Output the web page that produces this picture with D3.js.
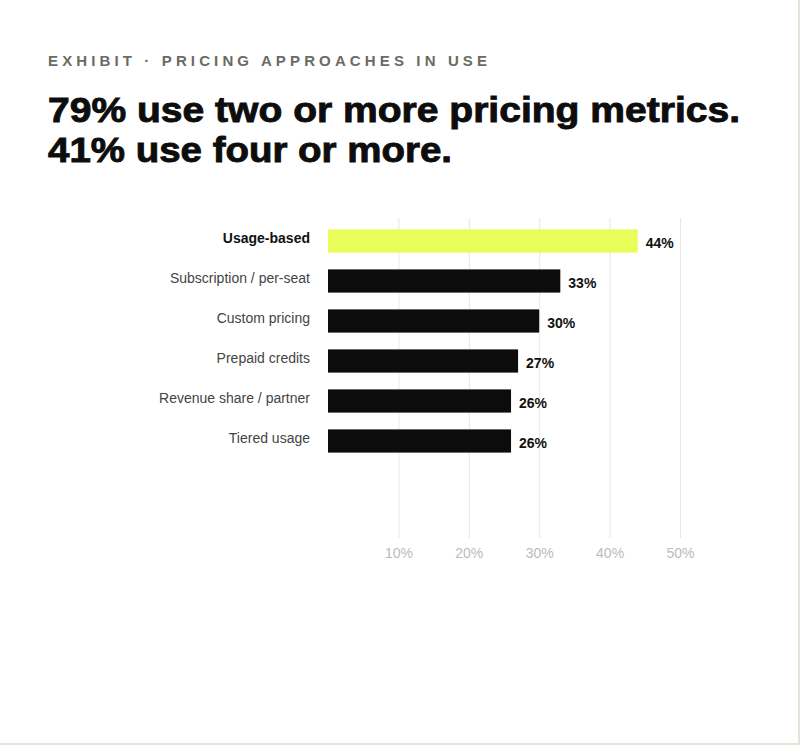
<!DOCTYPE html>
<html>
<head>
<meta charset="utf-8">
<script src="https://cdn.jsdelivr.net/npm/d3@7"></script>
<style>
  html, body { margin: 0; padding: 0; background: #e6e2d8; }
  svg { display: block; background: #fff; font-family: "Liberation Sans", Arial, sans-serif; }
  .kicker { font-size: 15px; font-weight: bold; fill: #6b6b63; }
  .headline { font-size: 35px; font-weight: bold; fill: #0d0d0d; stroke: #0d0d0d; stroke-width: 0.9px; }
  .cat { font-size: 14px; fill: #444; }
  .cat.hl { font-weight: bold; fill: #111; }
  .val { font-size: 14px; font-weight: bold; fill: #111; }
  .tick text { font-size: 14px; fill: #bdbbb5; }
</style>
</head>
<body>
<svg width="798" height="743"></svg>
<script>
// chart data
const categories = ['Usage-based', 'Subscription / per-seat', 'Custom pricing', 'Prepaid credits', 'Revenue share / partner', 'Tiered usage'];
const values = [44, 33, 30, 27, 26, 26];
const highlight = 'Usage-based';
const tickValues = [10, 20, 30, 40, 50];
const kicker = 'EXHIBIT · PRICING APPROACHES IN USE';
const headline = ['79% use two or more pricing metrics.', '41% use four or more.'];
const headlineWidths = [692, 404];

const svg = d3.select('svg');

const data = categories.map((c, i) => ({ name: c, value: values[i] }));

// scales
const xScale = d3.scaleLinear()
    .domain([0, 50])
    .range([328, 680]);

const yScale = d3.scaleBand()
    .domain(categories)
    .range([221, 461])
    .paddingInner(0.42)
    .paddingOuter(0.21);

// titles
svg.append('text')
    .attr('class', 'kicker')
    .attr('x', 48)
    .attr('y', 66)
    .attr('textLength', 439)
    .attr('lengthAdjust', 'spacing')
    .text(kicker);

svg.selectAll('.headline').data(headline)
  .enter().append('text')
    .attr('class', 'headline')
    .attr('x', 48)
    .attr('y', (d, i) => 122 + i * 40)
    .attr('textLength', (d, i) => headlineWidths[i])
    .attr('lengthAdjust', 'spacingAndGlyphs')
    .text(d => d);

// gridlines + tick labels
const xAxis = d3.axisBottom(xScale)
    .tickValues(tickValues)
    .tickFormat(d => d + '%')
    .tickSize(-320)
    .tickPadding(10);

const xAxisG = svg.append('g')
    .attr('transform', 'translate(0, 538)')
    .call(xAxis);

xAxisG.select('.domain').remove();
xAxisG.selectAll('.tick line').attr('stroke', '#e9e7e1');

// bars
svg.selectAll('rect.bar').data(data)
  .enter().append('rect')
    .attr('class', 'bar')
    .attr('x', xScale(0))
    .attr('y', d => yScale(d.name))
    .attr('width', d => xScale(d.value) - xScale(0))
    .attr('height', yScale.bandwidth())
    .attr('fill', d => d.name === highlight ? '#e8fd5a' : '#0c0c0c');

// category labels
svg.selectAll('text.cat').data(data)
  .enter().append('text')
    .attr('class', d => d.name === highlight ? 'cat hl' : 'cat')
    .attr('x', 310)
    .attr('y', d => yScale(d.name) + yScale.bandwidth() / 2)
    .attr('dy', '-0.1em')
    .attr('text-anchor', 'end')
    .attr('dominant-baseline', 'middle')
    .text(d => d.name);

// value labels
svg.selectAll('text.val').data(data)
  .enter().append('text')
    .attr('class', 'val')
    .attr('x', d => xScale(d.value) + 8)
    .attr('y', d => yScale(d.name) + yScale.bandwidth() / 2)
    .attr('dy', '0.2em')
    .attr('dominant-baseline', 'middle')
    .text(d => d.value + '%');
</script>
</body>
</html>
